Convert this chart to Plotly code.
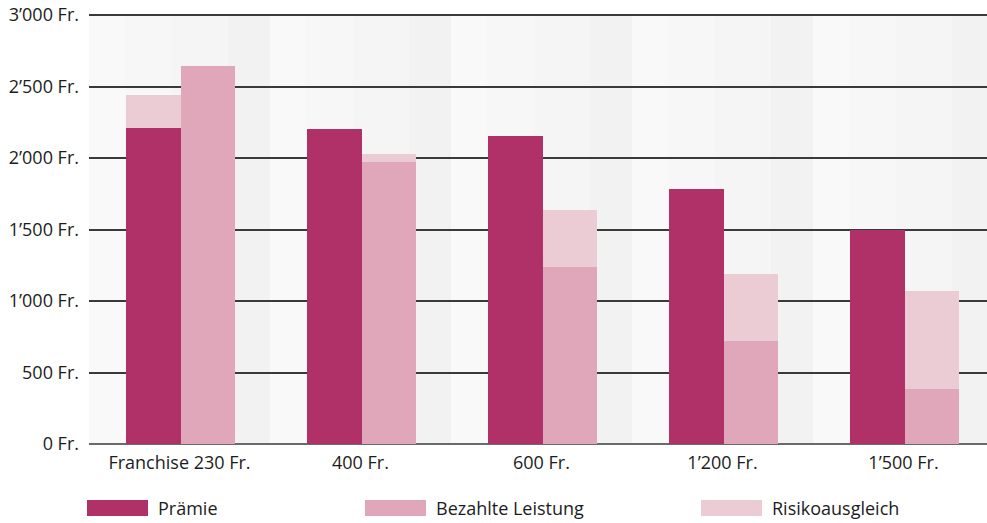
import plotly.graph_objects as go

# Franchise levels and amounts per insured person (CHF)
franchisen = ["Franchise 230 Fr.", "400 Fr.", "600 Fr.", "1’200 Fr.", "1’500 Fr."]
praemie = [2210, 2205, 2155, 1785, 1500]
bezahlte_leistung = [2640, 1970, 1240, 720, 385]
risikoausgleich = [230, 60, 395, 470, 685]
# which column the risk equalisation amount sits on
risiko_auf = ["Prämie", "Leistung", "Leistung", "Leistung", "Leistung"]

y_ticks = [0, 500, 1000, 1500, 2000, 2500, 3000]
y_ticktext = ["0 Fr.", "500 Fr.", "1’000 Fr.", "1’500 Fr.", "2’000 Fr.", "2’500 Fr.", "3’000 Fr."]

C_PRAEMIE = "#B03068"
C_LEISTUNG = "#E0A6B9"
C_RISIKO = "#EBCCD4"
FONT = "Open Sans, Noto Sans, sans-serif"
TXT = "#1c1c1c"

W, H = 987, 523
ML, MR, MT, MB = 89, 0, 11, 79
PW, PH = W - ML - MR, H - MT - MB
SLOT = 181.0  # px per category
x_idx = list(range(len(franchisen)))
x_range = [-0.5, -0.5 + PW / SLOT]
Y_MAX = 3000 * PH / (PH - 4)  # leave room above the top grid line

BAR_W = 0.302
OFF_P = -0.296
OFF_L = OFF_P + BAR_W

fig = go.Figure()

fig.add_trace(go.Bar(
    x=x_idx, y=praemie, width=BAR_W, offset=OFF_P,
    marker=dict(color=C_PRAEMIE, line=dict(width=0)), name="Prämie", showlegend=False,
))
fig.add_trace(go.Bar(
    x=x_idx, y=bezahlte_leistung, width=BAR_W, offset=OFF_L,
    marker=dict(color=C_LEISTUNG, line=dict(width=0)), name="Bezahlte Leistung", showlegend=False,
))

# risk equalisation stacked on the premium column
xp = [i for i in x_idx if risiko_auf[i] == "Prämie"]
fig.add_trace(go.Bar(
    x=xp, y=[risikoausgleich[i] for i in xp], base=[praemie[i] for i in xp],
    width=BAR_W, offset=OFF_P,
    marker=dict(color=C_RISIKO, line=dict(width=0)), name="Risikoausgleich", showlegend=False,
))
# risk equalisation stacked on the paid benefits column
xl = [i for i in x_idx if risiko_auf[i] == "Leistung"]
fig.add_trace(go.Bar(
    x=xl, y=[risikoausgleich[i] for i in xl], base=[bezahlte_leistung[i] for i in xl],
    width=BAR_W, offset=OFF_L,
    marker=dict(color=C_RISIKO, line=dict(width=0)), name="Risikoausgleich", showlegend=False,
))

# shaded vertical bands in every category slot
shapes = []
bands = [(0.0, 0.199, "#f9f9f9"), (0.199, 0.459, "#f7f7f7"),
         (0.459, 0.768, "#f5f5f5"), (0.768, 1.0, "#f2f2f2")]
for i in x_idx:
    s = i - 0.5
    for a, b, col in bands:
        shapes.append(dict(type="rect", xref="x", yref="y",
                           x0=s + a, x1=s + b, y0=0, y1=3000,
                           fillcolor=col, line=dict(width=0), layer="below"))

# legend drawn as wide swatches with labels
def px_x(p):
    return (p - ML) / PW

def px_y(p):
    return (H - MB - p) / PH

legend_items = [("Prämie", C_PRAEMIE, 87), ("Bezahlte Leistung", C_LEISTUNG, 365),
                ("Risikoausgleich", C_RISIKO, 701)]
annotations = []
for label, col, x0 in legend_items:
    shapes.append(dict(type="rect", xref="paper", yref="paper",
                       x0=px_x(x0), x1=px_x(x0 + 61), y0=px_y(516), y1=px_y(500),
                       fillcolor=col, line=dict(width=0)))
    annotations.append(dict(xref="paper", yref="paper", x=px_x(x0 + 69), y=px_y(508),
                            text=label, showarrow=False, xanchor="left", yanchor="middle",
                            font=dict(family=FONT, size=18, color=TXT)))

fig.update_layout(
    width=W, height=H,
    margin=dict(l=ML, r=MR, t=MT, b=MB, pad=0),
    paper_bgcolor="white", plot_bgcolor="white",
    barmode="overlay", bargap=0,
    showlegend=False,
    shapes=shapes, annotations=annotations,
    font=dict(family=FONT, size=18, color=TXT),
    xaxis=dict(range=x_range, tickvals=x_idx, ticktext=franchisen, showgrid=False,
               zeroline=False, showline=False, ticks="", fixedrange=True,
               ticklabelstandoff=6,
               tickfont=dict(family=FONT, size=18, color=TXT)),
    yaxis=dict(range=[0, Y_MAX], tickvals=y_ticks, ticktext=y_ticktext,
               showgrid=True, gridcolor="#3a3a3a", gridwidth=1.6,
               zeroline=True, zerolinecolor="#6a6a6a", zerolinewidth=2,
               showline=False, ticks="", ticklabelstandoff=9, fixedrange=True,
               tickfont=dict(family=FONT, size=18, color=TXT)),
)

fig.write_html("out.html", config={"displayModeBar": False})
